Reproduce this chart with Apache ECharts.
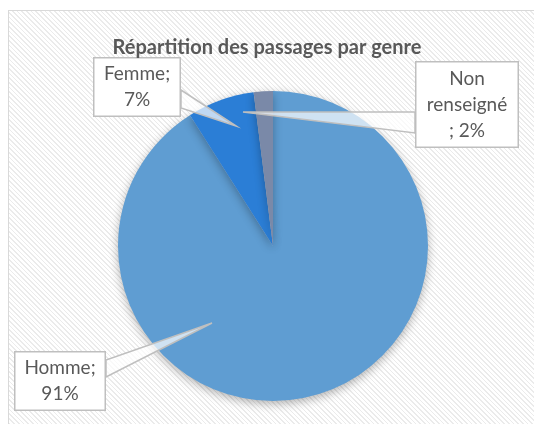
<!DOCTYPE html>
<html><head><meta charset="utf-8">
<script src="https://cdn.jsdelivr.net/npm/echarts@6/dist/echarts.min.js"></script>
<style>
html,body{margin:0;padding:0;background:#fff;}
#frame{position:absolute;left:8px;top:10px;width:540px;height:430px;border:1.5px solid #d9d9d9;
background:repeating-linear-gradient(45deg,#ffffff 0px,#ffffff 2.3px,#ebebeb 2.3px,#ebebeb 3.3px);}
#c{position:absolute;left:0;top:0;width:534px;height:424px;}
</style></head>
<body><div id="frame"></div><div id="c"></div>
<script>
const title = 'Répartition des passages par genre';
const categories = ['Homme', 'Femme', 'Non renseigné'];
const values = [91, 7, 2];
const labelTexts = ['Homme;\n91%', 'Femme;\n7%', 'Non\nrenseigné\n; 2%'];
const colors = ['#5f9dd2', '#2b7ed6', '#7a89a8'];

// callout boxes [x, y, w, h] and pointer [tip, base1, base2]
const boxes = [[14, 351, 92, 60], [93, 57, 88, 60], [415, 61, 104, 87]];
const pointers = [
  [[212, 323], [106, 360], [106, 377]],
  [[236, 126], [181, 90], [181, 108]],
  [[243, 112], [415, 112], [415, 133]]
];

const chart = echarts.init(document.getElementById('c'));
chart.setOption({
  backgroundColor: 'transparent',
  title: {text: title, left: 'center', top: 33,
    textStyle: {fontFamily: 'Lato', fontWeight: 'bold', fontSize: 20, color: '#595959'}},
  graphic: pointers.map(p => ({type: 'polygon', z: 100,
    shape: {points: p},
    style: {fill: 'rgba(255,255,255,0.7)', stroke: '#bfbfbf', lineWidth: 1.5}})),
  series: [{
    type: 'pie', center: [273, 246], radius: 155, startAngle: 90, clockwise: true,
    z: 2,
    data: categories.map((n, i) => ({name: n, value: values[i], itemStyle: {color: colors[i]},
      label: {width: boxes[i][2] - 3, height: boxes[i][3] - 3, padding: 0, align: 'center', verticalAlign: 'middle'}})),
    itemStyle: {shadowBlur: 10, shadowColor: 'rgba(0,0,0,0.3)', shadowOffsetY: 3},
    emphasis: {disabled: true},
    label: {show: true, position: 'outside',
      formatter: p => labelTexts[p.dataIndex],
      fontFamily: 'Lato', fontSize: 19, color: '#595959', lineHeight: 26,
      backgroundColor: '#fff', borderColor: '#bfbfbf', borderWidth: 1.5, align: 'center'},
    labelLine: {show: false},
    labelLayout: params => {
      const b = boxes[params.dataIndex];
      return {x: b[0] + b[2] / 2, y: b[1] + b[3] / 2, align: 'center', verticalAlign: 'middle'};
    }
  }]
});
</script></body></html>
